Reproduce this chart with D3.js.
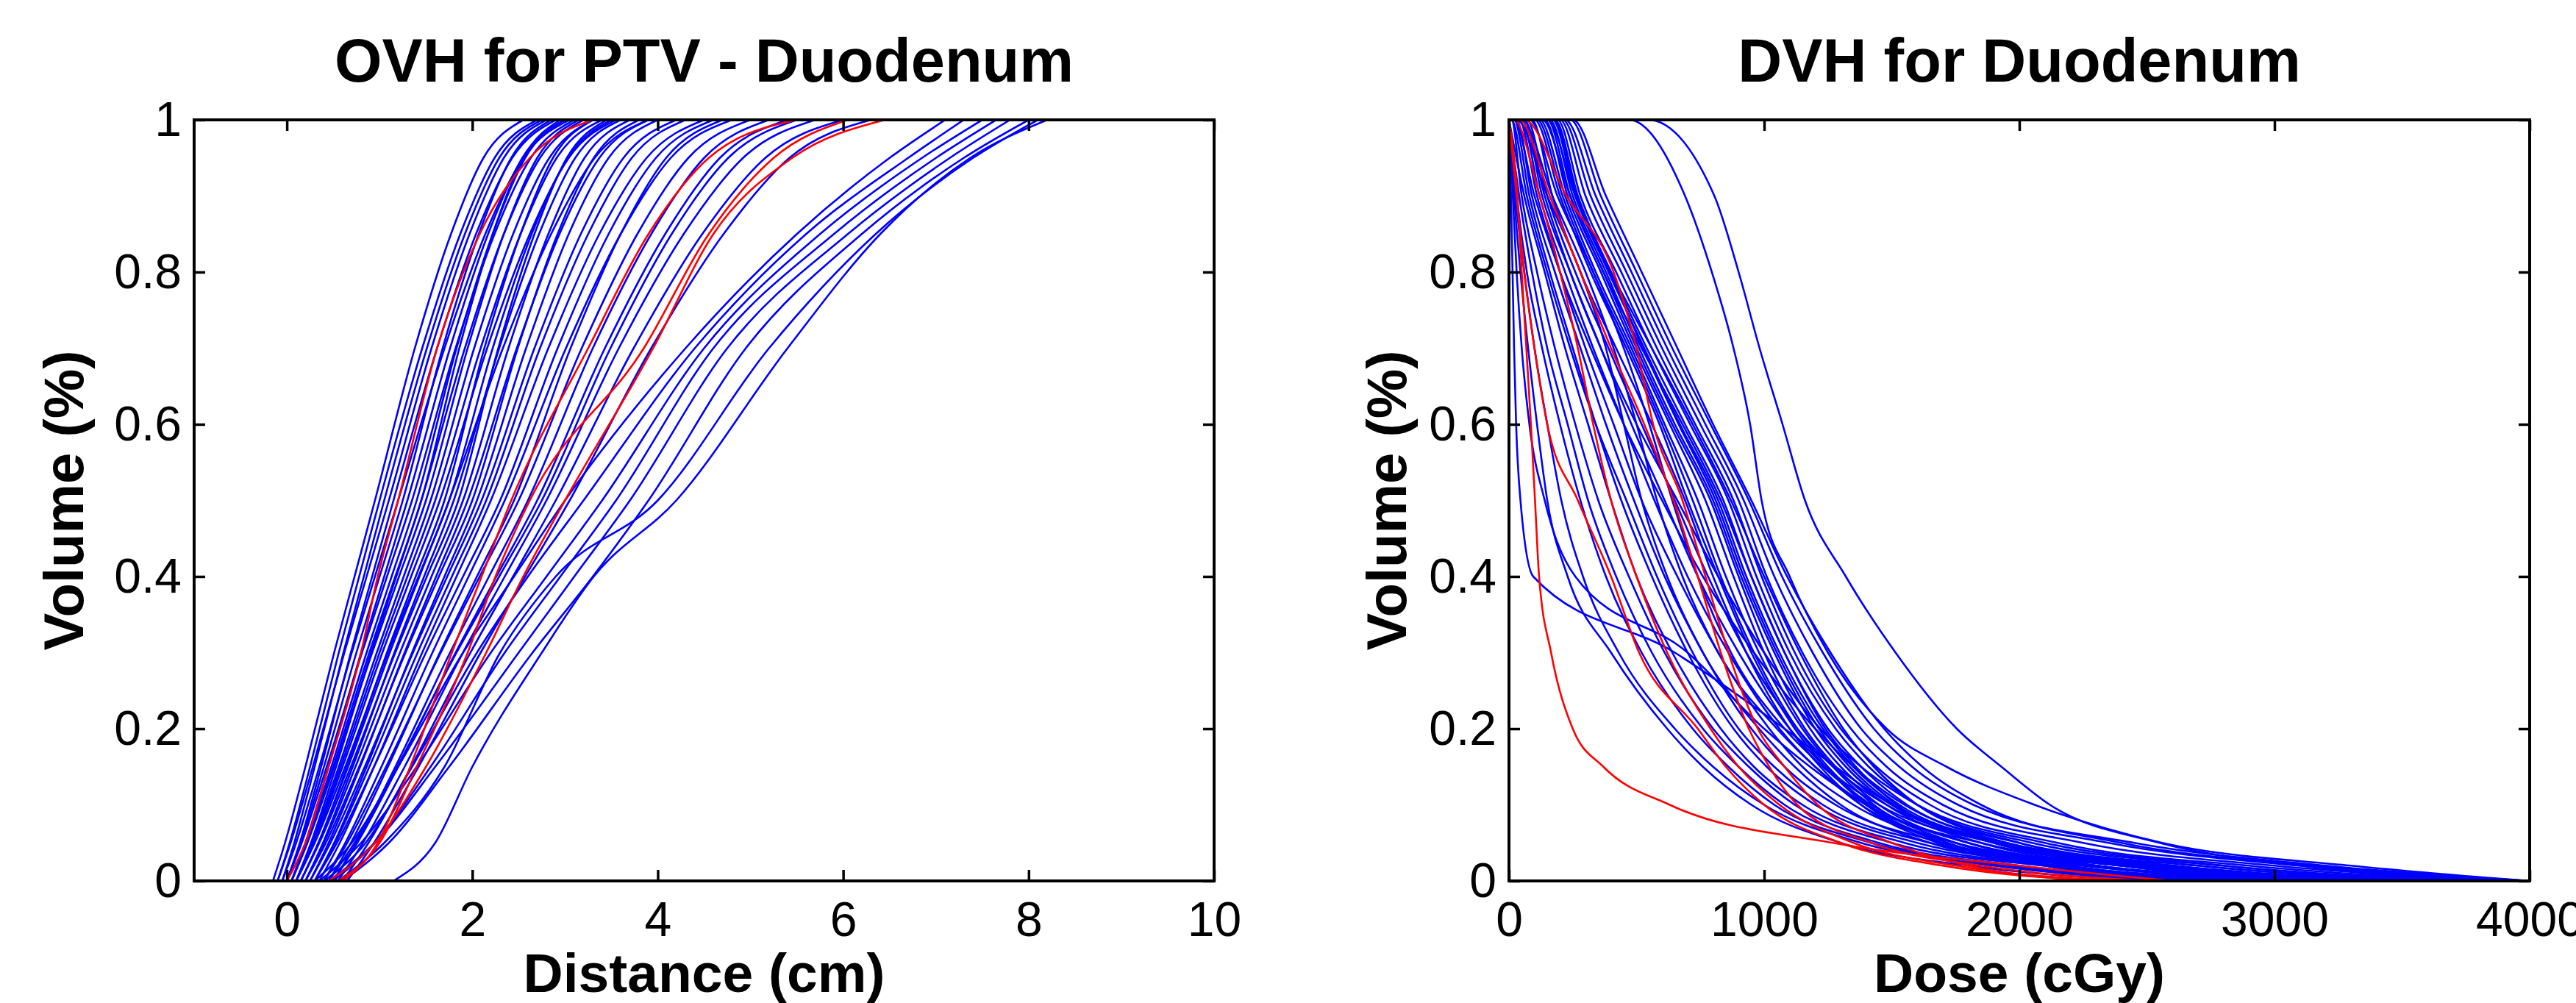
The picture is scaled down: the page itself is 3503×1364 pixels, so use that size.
<!DOCTYPE html>
<html>
<head>
<meta charset="utf-8">
<script src="https://cdn.jsdelivr.net/npm/d3@7"></script>
<style>
  body { margin: 0; background: #fff; }
  svg { display: block; }
</style>
</head>
<body>
<div id="chart"></div>
<script>
// ---- data ----
// OVH: distance (cm) at which each curve reaches the volume levels below
var ovhLevels = [0, 0.05, 0.15, 0.3, 0.4, 0.5, 0.7, 0.85, 0.95, 1]
var ovhBlue = [
  [-0.15, -0.02, 0.2, 0.51, 0.73, 0.95, 1.38, 1.77, 2.12, 2.55],
  [-0.1, 0.03, 0.25, 0.56, 0.78, 1.0, 1.46, 1.87, 2.24, 2.7],
  [-0.05, 0.08, 0.3, 0.61, 0.83, 1.05, 1.51, 1.92, 2.29, 2.75],
  [-0.1, 0.04, 0.28, 0.62, 0.86, 1.1, 1.56, 1.97, 2.34, 2.8],
  [0.0, 0.14, 0.37, 0.69, 0.92, 1.15, 1.62, 2.04, 2.43, 2.9],
  [0.0, 0.15, 0.4, 0.75, 1.0, 1.25, 1.68, 2.07, 2.42, 2.85],
  [0.05, 0.2, 0.45, 0.8, 1.05, 1.3, 1.76, 2.17, 2.54, 3.0],
  [0.0, 0.16, 0.43, 0.81, 1.08, 1.35, 1.82, 2.24, 2.63, 3.1],
  [0.05, 0.21, 0.48, 0.86, 1.13, 1.4, 1.83, 2.22, 2.57, 3.0],
  [0.1, 0.26, 0.53, 0.91, 1.18, 1.45, 1.92, 2.34, 2.73, 3.2],
  [0.05, 0.22, 0.51, 0.92, 1.21, 1.5, 1.95, 2.34, 2.7, 3.15],
  [0.1, 0.27, 0.56, 0.97, 1.26, 1.55, 2.02, 2.44, 2.83, 3.3],
  [0.1, 0.28, 0.58, 1.0, 1.3, 1.6, 2.09, 2.52, 2.91, 3.4],
  [0.15, 0.34, 0.65, 1.08, 1.39, 1.7, 2.13, 2.52, 2.87, 3.3],
  [0.1, 0.3, 0.63, 1.09, 1.42, 1.75, 2.22, 2.64, 3.03, 3.5],
  [0.2, 0.39, 0.71, 1.16, 1.48, 1.8, 2.29, 2.72, 3.11, 3.6],
  [0.15, 0.35, 0.69, 1.17, 1.51, 1.85, 2.28, 2.67, 3.02, 3.45],
  [0.2, 0.4, 0.74, 1.22, 1.56, 1.9, 2.39, 2.82, 3.21, 3.7],
  [0.25, 0.45, 0.79, 1.27, 1.61, 1.95, 2.48, 2.94, 3.37, 3.9],
  [0.2, 0.42, 0.78, 1.28, 1.64, 2.0, 2.49, 2.92, 3.31, 3.8],
  [0.3, 0.51, 0.86, 1.35, 1.7, 2.05, 2.58, 3.04, 3.47, 4.0],
  [0.25, 0.47, 0.84, 1.36, 1.73, 2.1, 2.67, 3.17, 3.63, 4.2],
  [-0.05, 0.1, 0.35, 0.7, 0.95, 1.2, 1.7, 2.14, 2.55, 3.05],
  [0.1, 0.29, 0.6, 1.03, 1.34, 1.65, 2.16, 2.62, 3.04, 3.55],
  [0.05, 0.22, 0.5, 0.89, 1.17, 1.45, 1.86, 2.22, 2.55, 2.95],
  [0.15, 0.34, 0.66, 1.11, 1.43, 1.75, 2.33, 2.85, 3.32, 3.9],
  [0.3, 0.52, 0.89, 1.41, 1.78, 2.15, 2.73, 3.25, 3.72, 4.3],
  [0.35, 0.57, 0.94, 1.46, 1.83, 2.2, 2.82, 3.37, 3.88, 4.5],
  [0.3, 0.54, 0.94, 1.5, 1.9, 2.3, 2.92, 3.47, 3.98, 4.6],
  [0.4, 0.63, 1.02, 1.57, 1.96, 2.35, 3.01, 3.6, 4.14, 4.8],
  [0.45, 0.69, 1.09, 1.65, 2.05, 2.45, 3.06, 3.6, 4.09, 4.7],
  [0.4, 0.65, 1.07, 1.66, 2.08, 2.5, 3.18, 3.78, 4.33, 5.0],
  [0.5, 0.75, 1.17, 1.76, 2.18, 2.6, 3.3, 3.93, 4.5, 5.2],
  [0.5, 0.76, 1.2, 1.82, 2.26, 2.7, 3.43, 4.08, 4.67, 5.4],
  [0.55, 0.82, 1.27, 1.9, 2.35, 2.8, 3.58, 4.28, 4.92, 5.7],
  [0.6, 0.88, 1.34, 1.98, 2.44, 2.9, 3.74, 4.48, 5.16, 6.0],
  [0.45, 0.73, 1.19, 1.83, 2.29, 2.75, 3.49, 4.15, 4.76, 5.5],
  [0.65, 0.94, 1.42, 2.09, 2.57, 3.05, 3.93, 4.71, 5.42, 6.3],
  [0.3, 0.7, 1.2, 1.9, 2.45, 3.0, 4.3, 5.5, 6.5, 7.1],
  [0.4, 0.85, 1.35, 2.05, 2.6, 3.2, 4.4, 5.6, 6.7, 7.3],
  [0.35, 0.8, 1.4, 2.2, 2.8, 3.4, 4.5, 5.75, 6.85, 7.5],
  [0.5, 0.95, 1.55, 2.35, 2.95, 3.55, 4.6, 5.9, 7.0, 7.65],
  [0.45, 0.95, 1.6, 2.5, 3.1, 3.7, 4.75, 6.05, 7.15, 7.8],
  [0.6, 1.1, 1.75, 2.65, 3.3, 3.9, 4.95, 6.2, 7.3, 8.0],
  [0.55, 1.05, 1.7, 2.3, 2.9, 4.0, 5.2, 6.35, 7.4, 8.1],
  [1.15, 1.6, 2.0, 2.75, 3.31, 4.2, 5.4, 6.4, 7.37, 8.2]
]
var ovhRed = [
  [0.0, 0.2, 0.45, 0.8, 0.98, 1.2, 1.62, 2.08, 2.62, 3.3],
  [0.6, 0.98, 1.33, 1.78, 2.1, 2.42, 3.25, 3.9, 4.55, 5.5],
  [0.55, 1.0, 1.4, 1.95, 2.25, 2.62, 3.85, 4.55, 5.25, 6.05],
  [0.45, 0.95, 1.5, 2.15, 2.55, 3.0, 3.95, 4.6, 5.45, 6.45]
]

// DVH: dose (cGy) at which each curve falls to the volume levels below
var dvhLevels = [1, 0.9, 0.8, 0.7, 0.6, 0.5, 0.4, 0.3, 0.2, 0.15, 0.1, 0.05, 0.02, 0]
var dvhBlue = [
  [545, 805, 900, 982, 1072, 1160, 1320, 1515, 1755, 1930, 2120, 2550, 3100, 4000],
  [470, 690, 795, 880, 945, 990, 1100, 1250, 1480, 1715, 2060, 2560, 3300, 4000],
  [0, 8, 14, 20, 28, 45, 95, 650, 1080, 1280, 1500, 1900, 2400, 3200],
  [0, 15, 30, 50, 80, 140, 260, 700, 1000, 1180, 1400, 1800, 2300, 3000],
  [0, 20, 45, 75, 110, 150, 230, 400, 620, 760, 950, 1300, 1800, 2500],
  [0, 25, 60, 100, 150, 205, 290, 430, 650, 800, 1000, 1380, 1900, 2600],
  [0, 40, 90, 150, 230, 310, 420, 560, 760, 900, 1080, 1450, 2000, 2800],
  [10, 50, 110, 180, 260, 350, 470, 610, 800, 940, 1120, 1500, 2100, 2900],
  [0, 60, 140, 220, 310, 400, 500, 640, 830, 960, 1150, 1550, 2150, 3000],
  [20, 80, 160, 250, 340, 440, 560, 700, 880, 1010, 1200, 1600, 2250, 3100],
  [30, 90, 180, 280, 380, 490, 610, 760, 950, 1080, 1280, 1700, 2300, 3200],
  [40, 110, 200, 300, 410, 520, 660, 820, 1020, 1150, 1350, 1750, 2400, 3300],
  [50, 120, 220, 330, 450, 570, 700, 860, 1060, 1200, 1400, 1850, 2500, 3400],
  [60, 130, 240, 360, 480, 610, 740, 900, 1100, 1240, 1450, 1900, 2600, 3500],
  [70, 150, 260, 390, 520, 650, 780, 930, 1130, 1270, 1480, 1950, 2700, 3600],
  [100, 200, 320, 460, 590, 700, 820, 950, 1120, 1240, 1400, 1700, 2100, 2700],
  [120, 220, 340, 480, 610, 740, 850, 980, 1150, 1270, 1430, 1750, 2200, 2800],
  [140, 230, 360, 490, 630, 770, 880, 1000, 1160, 1280, 1450, 1800, 2300, 3000],
  [150, 240, 370, 500, 640, 790, 900, 1020, 1180, 1300, 1480, 1850, 2400, 3100],
  [160, 250, 380, 510, 650, 800, 910, 1040, 1200, 1320, 1500, 1900, 2500, 3300],
  [170, 260, 390, 530, 670, 820, 930, 1060, 1230, 1350, 1530, 1950, 2600, 3400],
  [180, 270, 400, 540, 690, 840, 950, 1080, 1250, 1380, 1560, 2000, 2700, 3500],
  [190, 280, 420, 560, 710, 860, 970, 1100, 1280, 1410, 1600, 2050, 2800, 3700],
  [200, 300, 440, 580, 730, 880, 990, 1120, 1300, 1440, 1650, 2150, 2900, 3800],
  [210, 320, 460, 600, 750, 900, 1010, 1150, 1340, 1480, 1700, 2250, 3000, 3900],
  [220, 340, 480, 620, 770, 920, 1040, 1190, 1380, 1530, 1760, 2350, 3100, 4000],
  [240, 360, 500, 640, 790, 940, 1070, 1230, 1430, 1580, 1820, 2450, 3200, 4000],
  [150, 260, 400, 560, 720, 870, 1000, 1140, 1310, 1430, 1600, 2000, 2600, 3300],
  [130, 240, 370, 520, 680, 830, 950, 1080, 1240, 1360, 1520, 1900, 2450, 3200],
  [30, 150, 280, 380, 450, 520, 620, 760, 980, 1120, 1300, 1650, 2150, 2900],
  [50, 170, 300, 410, 500, 580, 680, 820, 1050, 1200, 1380, 1750, 2300, 3000],
  [80, 190, 330, 450, 550, 640, 740, 870, 1080, 1230, 1420, 1800, 2400, 3100],
  [20, 100, 200, 320, 450, 600, 760, 960, 1200, 1350, 1550, 1950, 2500, 3200],
  [60, 140, 240, 360, 500, 660, 820, 1000, 1220, 1380, 1600, 2100, 2800, 3600],
  [110, 210, 330, 470, 600, 720, 830, 960, 1130, 1250, 1410, 1720, 2150, 2750],
  [175, 265, 395, 525, 665, 810, 920, 1050, 1215, 1335, 1510, 1920, 2550, 3350],
  [90, 170, 280, 420, 560, 690, 800, 930, 1100, 1220, 1380, 1680, 2100, 2700],
  [0, 30, 70, 130, 200, 280, 380, 520, 720, 860, 1040, 1420, 1950, 2700],
  [10, 70, 150, 240, 340, 460, 580, 720, 900, 1040, 1230, 1650, 2250, 3000],
  [250, 380, 520, 660, 800, 950, 1090, 1260, 1470, 1620, 1850, 2400, 3150, 4000]
]
var dvhRed = [
  [0, 33, 50, 68, 86, 102, 118, 165, 250, 370, 630, 1270, 2000, 2600],
  [60, 225, 410, 500, 565, 680, 770, 860, 975, 1080, 1210, 1500, 1800, 2300],
  [0, 30, 60, 100, 150, 270, 400, 510, 740, 850, 1000, 1300, 1700, 2300],
  [20, 120, 200, 270, 330, 400, 500, 620, 790, 900, 1060, 1350, 1750, 2400],
  [40, 160, 280, 400, 530, 645, 740, 830, 940, 1020, 1130, 1420, 1850, 2500]
]

var volumeTicks = [0, 0.2, 0.4, 0.6, 0.8, 1]
var distanceTicks = [0, 2, 4, 6, 8, 10]
var doseTicks = [0, 1000, 2000, 3000, 4000]

// ---- drawing ----
var svgW = 3503, svgH = 1364
var yTop = 163, yBottom = 1198
var font = '"Liberation Sans", Arial, Helvetica, sans-serif'

var svg = d3.select('#chart')
  .append('svg')
  .attr('width', svgW)
  .attr('height', svgH)
  .style('font-family', font)

svg.append('rect').attr('width', svgW).attr('height', svgH).attr('fill', '#fff')

var panel = (opt) => {
  var x = d3.scaleLinear().domain(opt.xDomain).range([opt.left, opt.right])
  var y = d3.scaleLinear().domain([0, 1]).range([yBottom, yTop])
  var g = svg.append('g')

  g.append('clipPath').attr('id', opt.id)
    .append('rect')
    .attr('x', opt.left).attr('y', yTop)
    .attr('width', opt.right - opt.left).attr('height', yBottom - yTop)

  var line = d3.line()
    .x(d => x(d[0]))
    .y(d => y(d[1]))
    .curve(d3.curveMonotoneX)

  var plot = g.append('g').attr('clip-path', `url(#${opt.id})`)
  var drawSet = (curves, color) => {
    plot.append('g').selectAll('path')
      .data(curves.map(opt.toPoints))
      .join('path')
      .attr('d', line)
      .attr('fill', 'none')
      .attr('stroke', color)
      .attr('stroke-width', 2.6)
  }
  drawSet(opt.blue, '#0000ff')
  drawSet(opt.red, '#ff0000')

  var styleAxis = sel => {
    sel.select('.domain').remove()
    sel.selectAll('.tick line').attr('stroke', '#000').attr('stroke-width', 3.5)
    sel.selectAll('.tick text').attr('fill', '#000')
    sel.attr('font-size', 66).attr('font-family', font)
  }

  g.append('g').attr('transform', `translate(0,${yBottom})`)
    .call(d3.axisBottom(x).tickValues(opt.xTicks).tickFormat(d => String(d))
      .tickSizeInner(-15).tickSizeOuter(0).tickPadding(28))
    .call(styleAxis)
  g.append('g').attr('transform', `translate(0,${yTop})`)
    .call(d3.axisTop(x).tickValues(opt.xTicks).tickFormat('')
      .tickSizeInner(-15).tickSizeOuter(0))
    .call(styleAxis)
  g.append('g').attr('transform', `translate(${opt.left},0)`)
    .call(d3.axisLeft(y).tickValues(volumeTicks).tickFormat(d => String(d))
      .tickSizeInner(-15).tickSizeOuter(0).tickPadding(17))
    .call(styleAxis)
  g.append('g').attr('transform', `translate(${opt.right},0)`)
    .call(d3.axisRight(y).tickValues(volumeTicks).tickFormat('')
      .tickSizeInner(-15).tickSizeOuter(0))
    .call(styleAxis)

  g.append('rect')
    .attr('x', opt.left).attr('y', yTop)
    .attr('width', opt.right - opt.left).attr('height', yBottom - yTop)
    .attr('fill', 'none').attr('stroke', '#000').attr('stroke-width', 4)

  var cx = (opt.left + opt.right) / 2
  g.append('text').attr('x', cx).attr('y', 111)
    .attr('text-anchor', 'middle').attr('font-size', 83).attr('font-weight', 'bold')
    .text(opt.title)
  g.append('text').attr('x', cx).attr('y', 1349)
    .attr('text-anchor', 'middle').attr('font-size', 75).attr('font-weight', 'bold')
    .text(opt.xLabel)
  g.append('text')
    .attr('transform', `translate(${opt.yLabelX},${(yTop + yBottom) / 2}) rotate(-90)`)
    .attr('text-anchor', 'middle').attr('font-size', 76).attr('font-weight', 'bold')
    .text('Volume (%)')
}

panel({
  id: 'clip-ovh',
  left: 264, right: 1651,
  xDomain: [-1, 10],
  xTicks: distanceTicks,
  blue: ovhBlue, red: ovhRed,
  toPoints: c => ovhLevels.map((v, i) => [c[i], v]),
  title: 'OVH for PTV - Duodenum',
  xLabel: 'Distance (cm)',
  yLabelX: 113
})

panel({
  id: 'clip-dvh',
  left: 2052, right: 3440,
  xDomain: [0, 4000],
  xTicks: doseTicks,
  blue: dvhBlue, red: dvhRed,
  toPoints: c => {
    var pts = dvhLevels.map((v, i) => [c[i], v])
    if (c[0] > 0) pts.unshift([0, 1])
    return pts
  },
  title: 'DVH for Duodenum',
  xLabel: 'Dose (cGy)',
  yLabelX: 1912
})
</script>
</body>
</html>
